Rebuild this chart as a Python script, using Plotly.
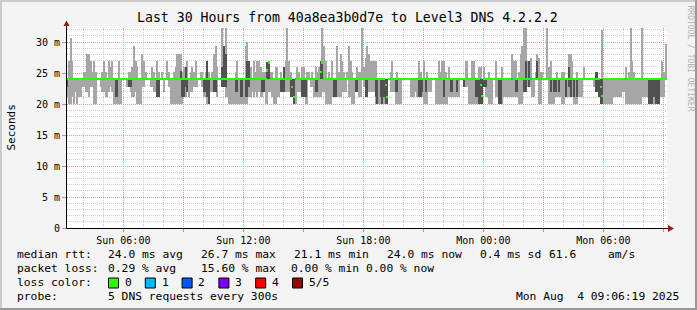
import plotly.graph_objects as go
from datetime import datetime, timedelta

TITLE = "Last 30 Hours from 40a8ea3b0d7e to Level3 DNS 4.2.2.2"
START = datetime(2025, 8, 3, 3, 10, 0)
STEP_S = 300

# max ping per 5-minute step (ms)
SMOKE_HI = [
    24.0, 27.0, 30.7, 27.0, 24.0, 24.0, 24.0, 24.0, 24.0, 24.0,
    25.1, 25.1, 28.1, 28.1, 27.0, 25.1, 27.0, 25.1, 24.0, 24.0,
    24.0, 25.1, 27.0, 25.1, 24.0, 27.0, 25.9, 27.0, 24.0, 24.0,
    24.0, 27.0, 24.0, 24.0, 24.0, 24.0, 24.0, 25.1, 25.1, 25.9,
    29.4, 27.0, 25.9, 24.0, 24.0, 28.1, 27.0, 25.1, 24.0, 24.0,
    24.0, 25.9, 25.1, 24.0, 27.0, 25.1, 24.0, 25.1, 24.0, 24.0,
    27.0, 25.1, 24.0, 24.0, 25.1, 25.9, 28.1, 28.1, 28.1, 25.1,
    25.9, 25.9, 27.0, 24.0, 25.1, 25.9, 25.1, 27.0, 24.0, 24.0,
    25.1, 25.1, 24.0, 25.1, 27.0, 25.1, 24.0, 25.1, 28.1, 29.4,
    25.9, 24.0, 24.0, 32.2, 27.0, 32.5, 24.0, 24.0, 24.0, 24.0,
    24.0, 25.1, 27.0, 24.0, 24.0, 24.0, 24.0, 29.4, 30.0, 27.0,
    25.9, 24.0, 27.0, 25.1, 27.0, 27.0, 25.9, 25.1, 25.1, 25.1,
    26.7, 26.7, 25.1, 25.1, 24.0, 25.9, 25.9, 24.0, 25.1, 24.0,
    25.9, 27.0, 32.5, 27.0, 25.1, 24.0, 24.0, 24.0, 25.9, 25.1,
    24.0, 25.9, 25.9, 24.0, 25.1, 25.1, 24.0, 25.1, 24.0, 25.9,
    25.1, 25.9, 27.0, 32.5, 29.4, 27.0, 24.0, 25.1, 24.0, 27.0,
    24.0, 24.0, 29.4, 25.1, 28.1, 27.0, 25.1, 24.0, 25.1, 29.4,
    27.0, 25.1, 24.0, 24.0, 25.9, 25.1, 25.1, 32.5, 25.9, 27.4,
    29.4, 28.1, 27.0, 27.0, 27.0, 27.0, 24.0, 24.0, 24.0, 24.0,
    24.0, 24.0, 24.0, 24.0, 25.1, 27.0, 24.0, 24.0, 25.1, 24.0,
    24.0, 24.0, 24.0, 24.0, 24.0, 24.0, 24.0, 24.0, 24.0, 24.0,
    24.0, 27.0, 25.1, 24.0, 27.0, 24.0, 25.1, 24.0, 24.0, 24.0,
    24.0, 24.0, 24.0, 27.0, 25.1, 27.0, 27.0, 25.1, 24.0, 25.9,
    24.0, 24.0, 24.0, 24.0, 24.0, 24.0, 24.0, 24.0, 24.0, 27.0,
    27.0, 24.0, 24.0, 27.0, 27.0, 24.0, 24.0, 25.9, 25.9, 24.0,
    25.9, 24.0, 24.0, 25.1, 24.0, 24.0, 24.0, 27.0, 24.0, 24.0,
    24.0, 25.9, 24.0, 24.0, 24.0, 24.0, 24.0, 28.1, 27.0, 27.0,
    24.0, 25.1, 28.1, 29.4, 32.5, 32.5, 27.0, 27.0, 27.4, 24.0,
    24.0, 25.1, 28.1, 27.4, 25.1, 25.1, 24.0, 24.0, 32.5, 25.9,
    27.0, 24.0, 24.0, 24.0, 25.1, 24.0, 24.0, 25.1, 25.1, 24.0,
    24.0, 28.1, 28.1, 27.0, 24.0, 24.0, 25.1, 24.0, 24.0, 24.0,
    25.9, 24.0, 24.0, 24.0, 24.0, 24.0, 24.0, 25.1, 25.1, 24.0,
    24.0, 32.0, 24.0, 24.0, 24.0, 24.0, 24.0, 24.0, 24.0, 24.0,
    24.0, 24.0, 24.0, 24.0, 24.0, 25.9, 24.0, 25.1, 32.5, 27.0,
    25.1, 24.0, 24.0, 24.0, 24.0, 32.5, 24.0, 24.0, 24.0, 24.0,
    24.0, 24.0, 24.0, 24.0, 24.0, 24.0, 24.0, 27.0, 25.1, 29.7,
]

# min ping per step (ms)
SMOKE_LO = [
    21.1, 20.0, 20.0, 21.1, 20.0, 21.9, 20.0, 21.1, 21.1, 22.7,
    22.7, 21.9, 21.9, 21.1, 22.7, 22.7, 20.0, 20.0, 24.0, 24.0,
    22.7, 21.9, 21.9, 21.1, 21.1, 21.9, 22.7, 21.9, 20.0, 20.0,
    20.0, 20.0, 20.0, 24.0, 24.0, 24.0, 22.7, 22.7, 21.9, 21.1,
    21.1, 21.9, 20.0, 20.0, 20.0, 22.7, 22.7, 24.0, 24.0, 24.0,
    22.7, 22.7, 21.9, 21.9, 21.1, 21.1, 24.0, 24.0, 21.9, 24.0,
    24.0, 22.7, 20.0, 20.0, 20.0, 20.0, 20.0, 20.0, 20.0, 20.0,
    21.1, 21.1, 21.9, 21.1, 21.9, 21.9, 22.7, 22.7, 22.7, 24.0,
    24.0, 22.7, 21.1, 21.1, 20.0, 20.0, 21.9, 21.9, 21.9, 21.9,
    21.1, 24.0, 24.0, 22.7, 22.7, 21.1, 21.1, 20.0, 20.0, 20.0,
    20.0, 20.0, 20.0, 20.0, 20.0, 20.0, 20.0, 20.0, 20.0, 21.1,
    21.1, 21.9, 21.1, 21.9, 21.1, 21.9, 21.1, 21.1, 21.9, 20.0,
    20.0, 21.9, 21.9, 21.1, 20.0, 20.0, 21.1, 21.1, 21.9, 21.9,
    21.9, 21.9, 21.9, 21.9, 21.1, 21.1, 20.0, 20.0, 21.9, 21.9,
    21.9, 21.1, 21.1, 20.0, 20.0, 24.0, 22.7, 22.7, 21.1, 21.1,
    21.1, 21.1, 21.1, 21.9, 21.9, 20.0, 20.0, 20.0, 20.0, 21.1,
    21.1, 21.1, 21.1, 21.1, 21.1, 21.9, 21.9, 21.9, 24.0, 21.1,
    21.1, 20.0, 20.0, 21.9, 21.9, 21.1, 21.1, 24.0, 22.7, 21.1,
    21.1, 21.9, 21.9, 21.9, 21.9, 20.0, 20.0, 20.0, 20.0, 20.0,
    20.0, 20.0, 20.0, 24.0, 21.9, 21.9, 21.9, 20.0, 20.0, 20.0,
    20.0, 24.0, 24.0, 24.0, 24.0, 24.0, 21.1, 21.1, 21.1, 21.9,
    21.1, 21.1, 21.1, 21.1, 20.0, 20.0, 20.0, 21.9, 21.9, 24.0,
    24.0, 20.0, 20.0, 20.0, 20.0, 20.0, 20.0, 20.0, 20.0, 21.1,
    21.1, 21.1, 21.1, 21.1, 21.1, 21.1, 24.0, 24.0, 22.7, 22.7,
    22.7, 20.0, 20.0, 20.0, 20.0, 20.0, 20.0, 20.0, 20.0, 20.0,
    22.7, 21.1, 21.1, 20.0, 20.0, 20.0, 24.0, 21.1, 21.1, 20.0,
    20.0, 20.0, 21.1, 21.1, 21.1, 21.1, 21.1, 21.1, 21.1, 21.1,
    21.1, 20.0, 20.0, 20.0, 21.9, 21.9, 22.7, 22.7, 22.7, 21.1,
    21.1, 24.0, 24.0, 20.0, 20.0, 24.0, 24.0, 24.0, 24.0, 20.0,
    20.0, 20.0, 20.0, 21.1, 21.1, 21.1, 21.1, 20.0, 20.0, 21.1,
    21.1, 21.1, 21.1, 21.1, 20.0, 20.0, 20.0, 21.1, 21.1, 21.1,
    24.0, 24.0, 24.0, 24.0, 24.0, 24.0, 22.7, 21.9, 21.9, 21.1,
    20.0, 20.0, 20.0, 20.0, 20.0, 20.0, 20.0, 20.0, 21.1, 21.1,
    21.1, 21.1, 21.1, 21.9, 21.9, 20.0, 20.0, 20.0, 20.0, 20.0,
    20.0, 20.0, 20.0, 20.0, 20.0, 21.1, 21.1, 21.1, 21.1, 20.0,
    20.0, 20.0, 20.0, 20.0, 20.0, 20.0, 21.1, 21.1, 21.1, 24.0,
]

# inner smoke band (2nd lowest ping .. 2nd highest ping)
DARK_LO = [
    22.7, 24.0, 24.0, 24.0, 24.0, 24.0, 24.0, 24.0, 24.0, 24.0,
    24.0, 24.0, 24.0, 24.0, 24.0, 24.0, 24.0, 24.0, 24.0, 24.0,
    24.0, 24.0, 24.0, 24.0, 24.0, 24.0, 24.0, 24.0, 24.0, 21.1,
    21.1, 24.0, 24.0, 24.0, 24.0, 24.0, 24.0, 22.7, 22.7, 24.0,
    24.0, 24.0, 24.0, 24.0, 24.0, 24.0, 24.0, 24.0, 24.0, 24.0,
    24.0, 24.0, 24.0, 24.0, 21.1, 21.1, 24.0, 24.0, 24.0, 24.0,
    24.0, 24.0, 24.0, 24.0, 24.0, 24.0, 24.0, 24.0, 24.0, 21.1,
    21.1, 22.7, 21.9, 24.0, 24.0, 24.0, 24.0, 24.0, 24.0, 24.0,
    24.0, 24.0, 21.9, 21.9, 21.1, 20.0, 24.0, 24.0, 21.9, 21.9,
    24.0, 24.0, 24.0, 22.7, 22.7, 22.7, 24.0, 24.0, 24.0, 24.0,
    24.0, 21.9, 21.9, 24.0, 21.1, 21.1, 24.0, 21.1, 21.1, 22.7,
    24.0, 24.0, 24.0, 24.0, 24.0, 24.0, 24.0, 21.9, 21.9, 24.0,
    24.0, 24.0, 24.0, 24.0, 24.0, 24.0, 24.0, 24.0, 21.9, 21.9,
    21.9, 24.0, 24.0, 24.0, 21.1, 21.1, 20.0, 24.0, 24.0, 24.0,
    24.0, 21.1, 21.1, 21.1, 24.0, 24.0, 24.0, 24.0, 24.0, 21.9,
    21.9, 24.0, 24.0, 24.0, 24.0, 24.0, 24.0, 24.0, 24.0, 24.0,
    21.1, 21.1, 24.0, 24.0, 24.0, 24.0, 24.0, 24.0, 24.0, 24.0,
    24.0, 24.0, 24.0, 21.9, 21.9, 24.0, 24.0, 24.0, 24.0, 21.1,
    21.1, 24.0, 24.0, 24.0, 24.0, 21.1, 20.0, 24.0, 21.1, 20.0,
    21.1, 20.0, 20.0, 24.0, 24.0, 24.0, 24.0, 21.9, 21.9, 24.0,
    24.0, 24.0, 24.0, 24.0, 24.0, 24.0, 24.0, 24.0, 24.0, 24.0,
    24.0, 21.1, 21.1, 21.9, 24.0, 21.9, 24.0, 24.0, 24.0, 24.0,
    24.0, 24.0, 24.0, 24.0, 24.0, 24.0, 21.1, 24.0, 24.0, 24.0,
    21.9, 21.9, 24.0, 24.0, 21.9, 24.0, 24.0, 24.0, 22.7, 24.0,
    24.0, 24.0, 24.0, 24.0, 24.0, 21.1, 21.1, 20.0, 20.0, 20.0,
    22.7, 22.7, 24.0, 24.0, 24.0, 24.0, 24.0, 24.0, 24.0, 20.0,
    20.0, 24.0, 24.0, 24.0, 24.0, 24.0, 24.0, 24.0, 24.0, 21.9,
    21.9, 24.0, 24.0, 24.0, 21.9, 21.9, 24.0, 22.7, 24.0, 24.0,
    24.0, 24.0, 24.0, 24.0, 24.0, 24.0, 24.0, 24.0, 24.0, 24.0,
    21.9, 24.0, 21.9, 21.9, 24.0, 21.9, 24.0, 24.0, 24.0, 21.1,
    24.0, 22.7, 21.1, 24.0, 21.1, 24.0, 21.1, 24.0, 24.0, 24.0,
    24.0, 24.0, 24.0, 24.0, 24.0, 24.0, 24.0, 21.9, 21.9, 21.1,
    20.0, 20.0, 24.0, 24.0, 24.0, 24.0, 24.0, 24.0, 24.0, 24.0,
    24.0, 24.0, 24.0, 24.0, 24.0, 24.0, 24.0, 24.0, 24.0, 24.0,
    24.0, 24.0, 24.0, 24.0, 24.0, 24.0, 24.0, 24.0, 24.0, 20.0,
    20.0, 20.0, 21.1, 20.0, 20.0, 20.0, 24.0, 24.0, 24.0, 24.0,
]

DARK_HI = [
    24.0, 24.0, 24.0, 24.0, 24.0, 24.0, 24.0, 24.0, 24.0, 24.0,
    24.0, 24.0, 24.0, 24.0, 24.0, 24.0, 24.0, 24.0, 24.0, 24.0,
    24.0, 24.0, 24.0, 24.0, 24.0, 24.0, 24.0, 24.0, 24.0, 24.0,
    24.0, 24.0, 24.0, 24.0, 24.0, 24.0, 24.0, 24.0, 24.0, 24.0,
    24.0, 24.0, 24.0, 24.0, 24.0, 24.0, 24.0, 24.0, 24.0, 24.0,
    24.0, 24.0, 24.0, 24.0, 24.0, 24.0, 24.0, 24.0, 24.0, 24.0,
    24.0, 24.0, 24.0, 24.0, 24.0, 24.0, 24.0, 24.0, 25.4, 24.0,
    24.0, 25.9, 24.0, 24.0, 24.0, 24.0, 24.0, 24.0, 24.0, 24.0,
    24.0, 24.0, 24.0, 24.0, 27.0, 24.0, 24.0, 24.0, 24.0, 24.0,
    24.0, 24.0, 24.0, 25.9, 29.4, 28.1, 24.0, 24.0, 24.0, 24.0,
    24.0, 24.0, 24.0, 24.0, 24.0, 24.0, 24.0, 24.0, 27.0, 27.0,
    24.0, 24.0, 24.0, 24.0, 24.0, 24.0, 24.0, 24.0, 24.0, 24.0,
    26.7, 26.7, 24.0, 24.0, 24.0, 24.0, 24.0, 24.0, 24.0, 24.0,
    25.9, 24.0, 24.0, 24.0, 24.0, 24.0, 24.0, 24.0, 24.0, 24.0,
    24.0, 24.0, 24.0, 24.0, 24.0, 24.0, 24.0, 24.0, 24.0, 24.0,
    24.0, 24.0, 27.0, 26.7, 24.0, 24.0, 24.0, 24.0, 24.0, 24.0,
    24.0, 24.0, 24.0, 24.0, 24.0, 24.0, 24.0, 24.0, 24.0, 24.0,
    24.0, 24.0, 24.0, 24.0, 24.0, 24.0, 24.0, 24.0, 24.0, 24.0,
    24.0, 24.0, 24.0, 24.0, 24.0, 24.0, 24.0, 24.0, 24.0, 24.0,
    24.0, 24.0, 24.0, 24.0, 24.0, 24.0, 24.0, 24.0, 24.0, 24.0,
    24.0, 24.0, 24.0, 24.0, 24.0, 24.0, 24.0, 24.0, 24.0, 24.0,
    24.0, 24.0, 24.0, 24.0, 24.0, 24.0, 24.0, 24.0, 24.0, 24.0,
    24.0, 24.0, 24.0, 24.0, 24.0, 24.0, 24.0, 24.0, 24.0, 24.0,
    24.0, 24.0, 24.0, 24.0, 24.0, 24.0, 24.0, 24.0, 24.0, 24.0,
    24.0, 24.0, 24.0, 24.0, 24.0, 24.0, 24.0, 24.0, 24.0, 24.0,
    24.0, 24.0, 24.0, 24.0, 24.0, 24.0, 24.0, 24.0, 24.0, 24.0,
    24.0, 24.0, 24.0, 24.0, 24.0, 24.0, 24.0, 24.0, 24.0, 24.0,
    24.0, 24.0, 24.0, 24.0, 24.0, 27.0, 24.0, 27.0, 24.0, 24.0,
    24.0, 24.0, 27.0, 24.0, 24.0, 24.0, 24.0, 24.0, 24.0, 24.0,
    24.0, 24.0, 24.0, 24.0, 24.0, 24.0, 24.0, 24.0, 24.0, 24.0,
    24.0, 25.9, 24.0, 24.0, 24.0, 24.0, 24.0, 24.0, 24.0, 24.0,
    24.0, 24.0, 24.0, 24.0, 24.0, 24.0, 24.0, 25.1, 25.1, 24.0,
    24.0, 24.0, 24.0, 24.0, 24.0, 24.0, 24.0, 24.0, 24.0, 24.0,
    24.0, 24.0, 24.0, 24.0, 24.0, 24.0, 24.0, 24.0, 24.0, 24.0,
    24.0, 24.0, 24.0, 24.0, 24.0, 24.0, 24.0, 24.0, 24.0, 24.0,
    24.0, 24.0, 24.0, 24.0, 24.0, 24.0, 24.0, 24.0, 24.0, 24.0,
]

MEDIAN = [
    24.0, 24.0, 24.0, 24.0, 24.0, 24.0, 24.0, 24.0, 24.0, 24.0,
    24.0, 24.0, 24.0, 24.0, 24.0, 24.0, 24.0, 24.0, 24.0, 24.0,
    24.0, 24.0, 24.0, 24.0, 24.0, 24.0, 24.0, 24.0, 24.0, 24.0,
    24.0, 24.0, 24.0, 24.0, 24.0, 24.0, 24.0, 24.0, 24.0, 24.0,
    24.0, 24.0, 24.0, 24.0, 24.0, 24.0, 24.0, 24.0, 24.0, 24.0,
    24.0, 24.0, 24.0, 24.0, 24.0, 24.0, 24.0, 24.0, 24.0, 24.0,
    24.0, 24.0, 24.0, 24.0, 24.0, 24.0, 24.0, 24.0, 24.0, 24.0,
    24.0, 24.0, 24.0, 24.0, 24.0, 24.0, 24.0, 24.0, 24.0, 24.0,
    24.0, 24.0, 24.0, 24.0, 24.0, 24.0, 24.0, 24.0, 24.0, 24.0,
    24.0, 24.0, 24.0, 24.0, 24.0, 24.0, 24.0, 24.0, 24.0, 24.0,
    24.0, 24.0, 24.0, 24.0, 24.0, 24.0, 24.0, 24.0, 24.0, 24.0,
    24.0, 24.0, 24.0, 24.0, 24.0, 24.0, 24.0, 24.0, 24.0, 24.0,
    25.4, 26.7, 24.0, 24.0, 24.0, 24.0, 24.0, 24.0, 24.0, 24.0,
    24.0, 24.0, 24.0, 24.0, 24.0, 22.7, 21.1, 24.0, 24.0, 24.0,
    24.0, 24.0, 24.0, 24.0, 24.0, 24.0, 24.0, 24.0, 24.0, 24.0,
    24.0, 24.0, 25.1, 26.7, 24.0, 24.0, 24.0, 24.0, 24.0, 24.0,
    24.0, 24.0, 24.0, 24.0, 24.0, 24.0, 24.0, 24.0, 24.0, 24.0,
    24.0, 24.0, 24.0, 24.0, 24.0, 24.0, 24.0, 24.0, 24.0, 24.0,
    24.0, 24.0, 24.0, 24.0, 24.0, 24.0, 24.0, 24.0, 24.0, 24.0,
    24.0, 23.0, 21.1, 24.0, 24.0, 24.0, 24.0, 24.0, 24.0, 24.0,
    24.0, 24.0, 24.0, 24.0, 24.0, 24.0, 24.0, 24.0, 24.0, 24.0,
    24.0, 24.0, 24.0, 24.0, 24.0, 24.0, 24.0, 24.0, 24.0, 24.0,
    24.0, 24.0, 24.0, 24.0, 24.0, 24.0, 24.0, 24.0, 24.0, 24.0,
    24.0, 24.0, 24.0, 24.0, 24.0, 24.0, 24.0, 24.0, 24.0, 24.0,
    24.0, 24.0, 24.0, 24.0, 24.0, 24.0, 24.0, 24.0, 23.0, 21.3,
    24.0, 24.0, 24.0, 24.0, 24.0, 24.0, 24.0, 24.0, 24.0, 24.0,
    24.0, 24.0, 24.0, 24.0, 24.0, 24.0, 24.0, 24.0, 24.0, 24.0,
    24.0, 24.0, 24.0, 24.0, 24.0, 24.0, 24.0, 24.0, 24.0, 24.0,
    24.0, 24.0, 24.0, 24.0, 24.0, 24.0, 24.0, 24.0, 24.0, 24.0,
    24.0, 24.0, 24.0, 24.0, 24.0, 24.0, 24.0, 24.0, 24.0, 24.0,
    24.0, 24.0, 24.0, 24.0, 24.0, 24.0, 24.0, 24.0, 24.0, 24.0,
    24.0, 24.0, 24.0, 24.0, 24.0, 24.0, 24.0, 24.0, 24.0, 24.0,
    22.7, 21.3, 24.0, 24.0, 24.0, 24.0, 24.0, 24.0, 24.0, 24.0,
    24.0, 24.0, 24.0, 24.0, 24.0, 24.0, 24.0, 24.0, 24.0, 24.0,
    24.0, 24.0, 24.0, 24.0, 24.0, 24.0, 24.0, 24.0, 24.0, 24.0,
    24.0, 24.0, 24.0, 24.0, 24.0, 24.0, 24.0, 24.0, 24.0, 24.0,
]

# lost pings (of 5) per step
LOSS = [
    0, 0, 0, 0, 0, 0, 0, 0, 0, 0,  0, 0, 0, 0, 0, 0, 0, 0, 0, 0,
    0, 0, 0, 0, 0, 0, 0, 0, 0, 0,  0, 0, 0, 0, 0, 0, 0, 0, 0, 0,
    0, 0, 0, 0, 0, 0, 0, 0, 0, 0,  0, 0, 0, 0, 0, 0, 0, 0, 0, 0,
    0, 0, 0, 0, 0, 0, 0, 0, 0, 0,  0, 0, 0, 0, 0, 0, 0, 0, 0, 0,
    0, 0, 0, 0, 0, 0, 0, 0, 0, 0,  0, 0, 1, 0, 0, 0, 0, 0, 0, 0,
    0, 0, 0, 0, 0, 0, 0, 0, 0, 0,  0, 0, 0, 0, 0, 0, 0, 0, 0, 0,
    0, 0, 0, 0, 0, 0, 0, 0, 0, 0,  0, 0, 0, 0, 0, 0, 0, 1, 0, 0,
    0, 0, 0, 0, 0, 0, 0, 0, 0, 0,  0, 0, 0, 0, 0, 0, 0, 0, 0, 0,
    0, 0, 0, 0, 0, 0, 0, 0, 0, 0,  0, 0, 0, 0, 0, 0, 0, 0, 0, 0,
    0, 0, 0, 0, 0, 0, 0, 0, 0, 0,  0, 0, 0, 0, 0, 0, 0, 0, 0, 0,
    0, 0, 0, 0, 0, 0, 0, 0, 0, 0,  0, 0, 0, 0, 0, 0, 0, 0, 0, 0,
    0, 0, 0, 0, 0, 0, 0, 0, 0, 0,  0, 0, 0, 0, 0, 0, 0, 0, 0, 0,
    0, 0, 0, 0, 0, 0, 0, 0, 0, 0,  0, 0, 0, 0, 0, 0, 0, 0, 0, 0,
    0, 0, 0, 0, 0, 0, 0, 1, 0, 0,  0, 0, 0, 0, 0, 0, 0, 0, 1, 0,
    0, 0, 0, 0, 0, 0, 0, 0, 0, 0,  0, 0, 0, 0, 0, 0, 0, 0, 0, 0,
    0, 0, 0, 0, 0, 0, 0, 0, 0, 0,  0, 0, 0, 0, 0, 0, 0, 0, 0, 0,
    0, 0, 0, 0, 0, 0, 0, 0, 0, 0,  0, 0, 0, 0, 0, 1, 0, 0, 0, 0,
    0, 0, 0, 0, 0, 0, 0, 0, 0, 0,  0, 0, 0, 0, 0, 0, 0, 0, 0, 0,
]

LOSS_COLORS = ["#26ff00", "#00b8ff", "#0059ff", "#7e00ff", "#ff0000", "#a10000"]
LOSS_LABELS = ["0", "1", "2", "3", "4", "5/5"]

Y_TICKS = [0, 5, 10, 15, 20, 25, 30]
Y_TICK_TEXT = ["0", "5 m", "10 m", "15 m", "20 m", "25 m", "30 m"]

X_TICKS = ["2025-08-03 06:00", "2025-08-03 09:00", "2025-08-03 12:00", "2025-08-03 15:00",
           "2025-08-03 18:00", "2025-08-03 21:00", "2025-08-04 00:00", "2025-08-04 03:00",
           "2025-08-04 06:00", "2025-08-04 09:00"]
X_TICK_TEXT = ["Sun 06:00", "", "Sun 12:00", "", "Sun 18:00", "", "Mon 00:00", "", "Mon 06:00", ""]

LEGEND_ROWS = [
    [(16, "median rtt:"), (107, "24.0 ms avg"), (200, "26.7 ms max"), (293, "21.1 ms min"),
     (386, "24.0 ms now"), (479, "0.4 ms sd"), (548, "61.6"), (607, "am/s")],
    [(16, "packet loss:"), (107, "0.29 % avg"), (200, "15.60 % max"), (290, "0.00 % min"),
     (365, "0.00 % now")],
    [(16, "loss color:")],
    [(16, "probe:"), (107, "5 DNS requests every 300s")],
]
STAMP = "Mon Aug\u00a0\u00a04 09:06:19 2025"

N = len(SMOKE_HI)
assert all(len(a) == N for a in (SMOKE_LO, DARK_LO, DARK_HI, MEDIAN, LOSS))

times = [START + timedelta(seconds=STEP_S * k + STEP_S / 2) for k in range(N)]
W = STEP_S * 1000

# ---------- geometry (pixels) ----------
FIG_W, FIG_H = 697, 310
PL, PR, PT, PB = 67, 667, 28, 228
PX_PER_MS = 6.2


def px(x):
    return (x - PL) / (PR - PL)


def py(y):
    return (PB - y) / (PB - PT)


MONO = "DejaVu Sans Mono, monospace"
LEG_SIZE = 11.3

fig = go.Figure()
fig.add_trace(go.Bar(
    x=times, y=[h - l for h, l in zip(SMOKE_HI, SMOKE_LO)], base=SMOKE_LO, width=W,
    marker=dict(color="#a6a6a6", line=dict(width=0)), hoverinfo="skip"))
fig.add_trace(go.Bar(
    x=times, y=[h - l for h, l in zip(DARK_HI, DARK_LO)], base=DARK_LO, width=W,
    marker=dict(color="#515151", line=dict(width=0)), hoverinfo="skip"))
MED_H = 0.34
fig.add_trace(go.Bar(
    x=times, y=[MED_H] * N, base=[m - MED_H / 2 for m in MEDIAN], width=W,
    marker=dict(color=[LOSS_COLORS[l] for l in LOSS], line=dict(width=0)), hoverinfo="skip"))

x_start = START + timedelta(minutes=1)
x_end = x_start + timedelta(hours=30)

fig.update_layout(
    width=FIG_W, height=FIG_H,
    margin=dict(l=PL, r=FIG_W - PR, t=PT, b=FIG_H - PB, pad=0),
    paper_bgcolor="#f3f3f3", plot_bgcolor="#ffffff",
    barmode="overlay", bargap=0, showlegend=False,
    font=dict(family=MONO, size=10, color="#000000"),
    xaxis=dict(
        type="date", range=[x_start, x_end],
        tickmode="array", tickvals=X_TICKS, ticktext=X_TICK_TEXT,
        showgrid=True, gridcolor="#e79a9a", griddash="1px,1px", gridwidth=1,
        ticks="outside", ticklen=3, tickcolor="#e08585", tickwidth=1,
        tickfont=dict(family=MONO, size=10, color="#000000"),
        minor=dict(tickmode="linear", tick0="2025-08-03 00:00", dtick=3600000,
                   showgrid=True, gridcolor="#cccccc", griddash="1px,1px", gridwidth=1),
        showline=False, zeroline=False, fixedrange=True,
    ),
    yaxis=dict(
        range=[0, (PB - PT) / PX_PER_MS],
        tickmode="array", tickvals=Y_TICKS, ticktext=Y_TICK_TEXT,
        showgrid=True, gridcolor="#e79a9a", griddash="1px,1px", gridwidth=1,
        ticks="outside", ticklen=4, tickcolor="#e08585", tickwidth=1,
        tickfont=dict(family=MONO, size=10, color="#000000"),
        minor=dict(tickmode="linear", tick0=0, dtick=1,
                   showgrid=True, gridcolor="#cccccc", griddash="1px,1px", gridwidth=1),
        showline=False, zeroline=False, fixedrange=True,
    ),
)

shapes = []
# frame
shapes.append(dict(type="rect", xref="paper", yref="paper", x0=px(0), x1=px(2), y0=py(FIG_H), y1=py(0),
                   fillcolor="#cbcbcb", line=dict(width=0), layer="above"))
shapes.append(dict(type="rect", xref="paper", yref="paper", x0=px(0), x1=px(FIG_W), y0=py(2), y1=py(0),
                   fillcolor="#cbcbcb", line=dict(width=0), layer="above"))
shapes.append(dict(type="rect", xref="paper", yref="paper", x0=px(FIG_W - 2), x1=px(FIG_W), y0=py(FIG_H), y1=py(0),
                   fillcolor="#999999", line=dict(width=0), layer="above"))
shapes.append(dict(type="rect", xref="paper", yref="paper", x0=px(0), x1=px(FIG_W), y0=py(FIG_H), y1=py(FIG_H - 2),
                   fillcolor="#999999", line=dict(width=0), layer="above"))
# axes
shapes.append(dict(type="line", xref="paper", yref="paper", x0=px(PL - 0.5), x1=px(670), y0=py(PB + 0.5), y1=py(PB + 0.5),
                   line=dict(color="#000000", width=1), layer="above"))
shapes.append(dict(type="line", xref="paper", yref="paper", x0=px(PL - 0.5), x1=px(PL - 0.5), y0=py(PB + 0.5), y1=py(24),
                   line=dict(color="#000000", width=1), layer="above"))
# arrows
shapes.append(dict(type="path", xref="paper", yref="paper",
                   path=f"M {px(668)} {py(225)} L {px(674)} {py(228.5)} L {px(668)} {py(232)} Z",
                   fillcolor="#9c1a1a", line=dict(width=0), layer="above"))
shapes.append(dict(type="path", xref="paper", yref="paper",
                   path=f"M {px(63.5)} {py(26)} L {px(66.5)} {py(20.5)} L {px(69.5)} {py(26)} Z",
                   fillcolor="#9c1a1a", line=dict(width=0), layer="above"))
# loss colour swatches
for i, c in enumerate(LOSS_COLORS):
    x0 = 108.5 + i * 36.8
    shapes.append(dict(type="rect", xref="paper", yref="paper", x0=px(x0), x1=px(x0 + 10),
                       y0=py(288), y1=py(278), fillcolor=c, line=dict(color="#000000", width=1)))

annotations = []
annotations.append(dict(text=TITLE, xref="paper", yref="paper", x=px(347.5), y=py(18),
                        xanchor="center", yanchor="middle", showarrow=False,
                        font=dict(family=MONO, size=13.2, color="#000000")))
annotations.append(dict(text="Seconds", xref="paper", yref="paper", x=px(10.5), y=py(128),
                        xanchor="center", yanchor="middle", showarrow=False, textangle=-90,
                        font=dict(family=MONO, size=11, color="#000000")))
annotations.append(dict(text="RRDTOOL / TOBI OETIKER", xref="paper", yref="paper", x=px(690), y=py(58.5),
                        xanchor="center", yanchor="middle", showarrow=False, textangle=90,
                        font=dict(family=MONO, size=8, color="#b0b0b0")))
ROW_Y = [254.5, 268.5, 282.5, 296.5]
for ry, row in zip(ROW_Y, LEGEND_ROWS):
    for x, t in row:
        annotations.append(dict(text=t.replace(" ", "\u00a0"), xref="paper", yref="paper", x=px(x - 1), y=py(ry),
                                xanchor="left", yanchor="middle", showarrow=False,
                                font=dict(family=MONO, size=LEG_SIZE, color="#000000")))
for i, lab in enumerate(LOSS_LABELS):
    annotations.append(dict(text=lab, xref="paper", yref="paper", x=px(123 + i * 36.7), y=py(ROW_Y[2]),
                            xanchor="left", yanchor="middle", showarrow=False,
                            font=dict(family=MONO, size=LEG_SIZE, color="#000000")))
annotations.append(dict(text=STAMP, xref="paper", yref="paper", x=px(681), y=py(ROW_Y[3]),
                        xanchor="right", yanchor="middle", showarrow=False,
                        font=dict(family=MONO, size=LEG_SIZE, color="#000000")))

fig.update_layout(shapes=shapes, annotations=annotations)
fig.write_html("out.html")
